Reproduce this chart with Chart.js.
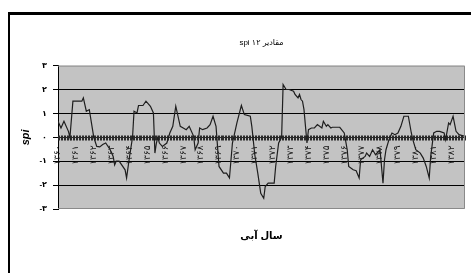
<!DOCTYPE html>
<html>
<head>
<meta charset="utf-8">
<script src="https://cdn.jsdelivr.net/npm/chart.js@4"></script>
<style>
  body { margin: 0; background: #fff; }
  #wrap { position: relative; width: 471px; height: 273px; overflow: hidden; }
  #frame { position: absolute; left: 8px; top: 12px; width: 480px; height: 300px;
           border-top: 3px solid #000; border-left: 2px solid #000; }
  canvas { position: absolute; left: 0; top: 0; }
</style>
</head>
<body>
<div id="wrap">
  <div id="frame"></div>
  <canvas id="chart" width="471" height="273"></canvas>
</div>
<script>
// mois depuis le debut de la serie
const months = [0, 2, 4, 7, 8, 10, 11, 16, 17, 19, 21, 24, 26, 28, 30, 32, 35, 37, 38, 39, 41, 45, 46, 48, 50,
  51, 53, 54, 57, 59, 62, 64, 65, 66, 67, 68, 70, 73, 75, 77, 79, 82, 84, 86, 88, 91, 92, 94, 95, 97,
  100, 102, 104, 106, 107, 108, 111, 113, 115, 117, 120, 123, 125, 129, 130, 132, 134, 136, 138, 139,
  141, 145, 146, 148, 150, 151, 153, 155, 158, 159, 161, 162, 163, 164, 165, 167, 168, 170, 172, 174,
  177, 178, 180, 181, 183, 184, 189, 192, 194, 195, 198, 200, 202, 203, 206, 207, 209, 211, 213, 216,
  218, 219, 220, 222, 224, 226, 228, 230, 232, 235, 237, 238, 240, 243, 245, 247, 249, 250, 252, 254,
  256, 259, 260, 262, 263, 265, 267, 269, 273];
// valeurs spi 12 mois
const spi = [0.67, 0.39, 0.67, 0.25, 0, 1.51, 1.51, 1.51, 1.65, 1.09, 1.16, 0, -0.38, -0.4, -0.3, -0.24, -0.52, -0.8, -1.15, -1.0, -1.0, -1.36, -1.7, -0.8, 0,
  1.09, 1.02, 1.33, 1.33, 1.51, 1.3, 1.02, -0.66, -0.24, 0, -0.24, -0.38, -0.24, 0.18, 0.46, 1.3, 0.46, 0.39, 0.32, 0.46, 0.04, -0.52, -0.24, 0.39, 0.32,
  0.39, 0.53, 0.88, 0.46, -0.38, -1.22, -1.5, -1.5, -1.7, -0.24, 0.6, 1.33, 0.95, 0.88, 0.46, -0.73, -1.5, -2.34, -2.55, -2.06,
  -1.92, -1.92, -1.22, -0.24, 0, 2.21, 2.0, 2.0, 1.93, 1.79, 1.65, 1.79, 1.58, 1.51, 1.16, -0.24, 0.32, 0.39, 0.39, 0.53,
  0.39, 0.67, 0.46, 0.53, 0.39, 0.42, 0.42, 0.18, -0.52, -1.22, -1.36, -1.4, -1.7, -0.94, -0.8, -0.66, -0.8, -0.52, -0.73, -0.52,
  -1.92, -0.94, -0.52, -0.1, 0.18, 0.11, 0.18, 0.46, 0.88, 0.88, 0.18, -0.1, -0.52, -0.66, -0.87, -1.22, -1.7, -0.8, 0.18, 0.25,
  0.25, 0.18, -0.1, 0.6, 0.53, 0.88, 0.25, 0.11, 0.04];
// etiquettes des annees (une tous les 12 mois)
const yearLabels = ["۱۳۶۰", "۱۳۶۱", "۱۳۶۲", "۱۳۶۳", "۱۳۶۴", "۱۳۶۵", "۱۳۶۶", "۱۳۶۷", "۱۳۶۸", "۱۳۶۹", "۱۳۷۰", "۱۳۷۱",
  "۱۳۷۲", "۱۳۷۳", "۱۳۷۴", "۱۳۷۵", "۱۳۷۶", "۱۳۷۷", "۱۳۷۸", "۱۳۷۹", "۱۳۸۰", "۱۳۸۱", "۱۳۸۲"];
const yTickValues = [-3, -2, -1, 0, 1, 2, 3];
const yTickLabels = ["-۳", "-۲", "-۱", "۰", "۱", "۲", "۳"];
const lastMonth = 273;

Chart.defaults.font.family = "'Liberation Sans', 'DejaVu Sans', sans-serif";
Chart.defaults.color = "#000";

// fond gris + cadre de la zone de trace
const plotArea = {
  id: "plotArea",
  beforeDraw(chart) {
    const a = chart.chartArea, ctx = chart.ctx;
    ctx.save();
    ctx.fillStyle = "#c3c3c3";
    ctx.fillRect(a.left, a.top, a.right - a.left, a.bottom - a.top);
    ctx.restore();
  },
  afterDraw(chart) {
    const a = chart.chartArea, ctx = chart.ctx;
    ctx.save();
    ctx.strokeStyle = "#8a8a8a";
    ctx.lineWidth = 1;
    ctx.beginPath();
    ctx.moveTo(a.left, a.top + 0.5);
    ctx.lineTo(a.right - 0.5, a.top + 0.5);
    ctx.lineTo(a.right - 0.5, a.bottom - 0.5);
    ctx.lineTo(a.left, a.bottom - 0.5);
    ctx.stroke();
    ctx.restore();
  }
};

// axe des x qui croise a zero : graduations mensuelles + annees tournees
const zeroAxis = {
  id: "zeroAxis",
  beforeDatasetsDraw(chart) {
    const xs = chart.scales.x, ys = chart.scales.y, ctx = chart.ctx;
    const y0 = Math.round(ys.getPixelForValue(0)) + 0.5;
    ctx.save();
    ctx.strokeStyle = "#2a2a2a";
    ctx.lineWidth = 1;
    ctx.beginPath();
    ctx.moveTo(xs.left, y0);
    ctx.lineTo(xs.right, y0);
    for (let m = 0; m <= lastMonth; m++) {
      const px = Math.round(xs.getPixelForValue(m)) + 0.5;
      ctx.moveTo(px, y0 - 2);
      ctx.lineTo(px, y0 + 3);
    }
    ctx.stroke();
    ctx.font = "9px 'DejaVu Sans', sans-serif";
    ctx.fillStyle = "#111";
    ctx.textAlign = "right";
    ctx.textBaseline = "middle";
    yearLabels.forEach((lab, i) => {
      ctx.save();
      ctx.translate(xs.getPixelForValue(i * 12), y0 + 8);
      ctx.rotate(-Math.PI / 2);
      ctx.fillText(lab, 0, 0);
      ctx.restore();
    });
    ctx.restore();
  }
};

new Chart(document.getElementById("chart"), {
  type: "line",
  data: {
    datasets: [{
      data: months.map((m, i) => ({ x: m, y: spi[i] })),
      borderColor: "#1e1e1e",
      borderWidth: 1.2,
      pointRadius: 0,
      tension: 0,
      fill: false
    }]
  },
  plugins: [plotArea, zeroAxis],
  options: {
    responsive: false,
    animation: false,
    layout: { padding: { left: 10, right: 6, top: 12, bottom: 18 } },
    plugins: {
      legend: { display: false },
      tooltip: { enabled: false },
      title: {
        display: true,
        fullSize: false,
        text: "spi ۱۲ مقادیر",
        font: { size: 8, weight: "normal" },
        padding: { top: 26, bottom: 18 }
      },
      subtitle: {
        display: true,
        fullSize: false,
        position: "bottom",
        text: "سال آبی",
        font: { size: 10, weight: "bold" },
        padding: { top: 21, bottom: 13 }
      }
    },
    scales: {
      x: {
        type: "linear",
        display: false,
        min: 0,
        max: lastMonth
      },
      y: {
        min: -3,
        max: 3,
        afterFit: s => { s.width = 48; },
        afterBuildTicks: s => { s.ticks = yTickValues.map(v => ({ value: v })); },
        grid: {
          color: c => (Math.abs(c.tick.value) === 3 ? "rgba(0,0,0,0)" : "#000"),
          tickColor: "#000",
          tickLength: 5
        },
        border: { color: "#000" },
        ticks: {
          padding: 6,
          font: { size: 8, weight: "bold" },
          callback: v => yTickLabels[yTickValues.indexOf(v)]
        },
        title: {
          display: true,
          text: "spi",
          font: { size: 11, weight: "bold", style: "italic" },
          padding: { top: 9, bottom: 0 }
        }
      }
    }
  }
});
</script>
</body>
</html>
